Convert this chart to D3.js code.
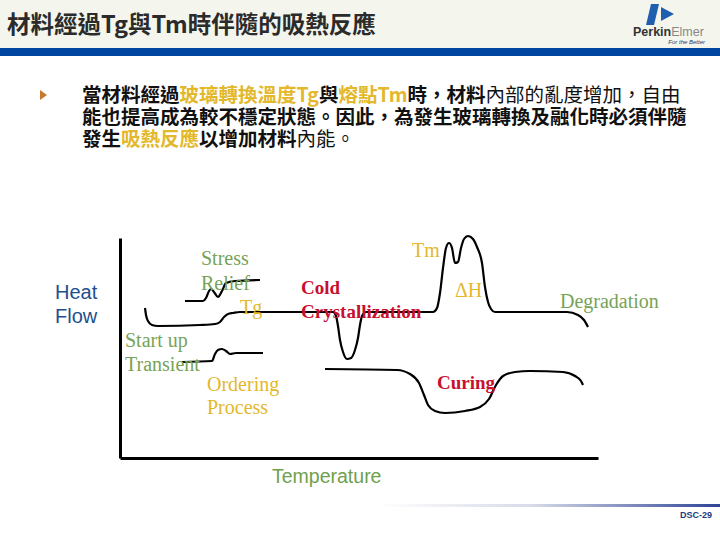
<!DOCTYPE html>
<html>
<head>
<meta charset="utf-8">
<script src="https://cdn.jsdelivr.net/npm/d3@7"></script>
<style>
  body { margin: 0; background: #fff; }
  svg { display: block; }
</style>
</head>
<body>
<svg width="720" height="540"></svg>
<script>
// DSC thermogram sketch: [temperature, heat flow] in arbitrary units
const mainCurve = [
  [25,150],[26,143],[28,137],[32,133],[38,132],[80,133],[95,134],[100,136],[104,141],[108,144],
  [113,145],[120,146],[180,146],[213,146],[216,142],[218,132],[220,118],[223,106],[227,99],
  [231,100],[235,108],[238,120],[240,133],[242,142],[246,146],[313,146],[317,150],[320,165],
  [323,190],[326,210],[329,215],[332,210],[335,195],[338,196],[341,210],[344,219],[348,222],
  [353,219],[357,211],[362,195],[365,171],[368,156],[371,149],[375,146],[447,146],[458,143],
  [464,138],[468,131]
];
const stressReliefCurve = [
  [65,157],[83,157],[86,160],[89,167],[91,169],[94,166],[98,161],[102,167],[106,175],[115,177],[140,178]
];
const orderingCurve = [
  [62,96],[92,97],[95,104],[98,108],[102,109],[106,107],[110,104],[116,105],[143,105]
];
const curingCurve = [
  [205,89],[277,88],[290,84],[299,75],[304,63],[308,53],[315,47],[325,45],[345,47],[360,51],
  [369,59],[376,73],[383,82],[395,86],[410,87],[443,86],[455,82],[461,77],[463,73]
];

const labelText = ['Stress', 'Relief', 'Tg', 'Start up', 'Transient', 'Ordering', 'Process',
  'Tm', 'Cold', 'Crystallization', '\u0394H', 'Degradation', 'Curing'];
const labelAt = [[81,193],[81,168],[120,144],[5,111],[5,87],[87,67],[87,44],
  [292,201],[181,164],[181,140],[335,161],[440,150],[317,69]];
const labelKind = ['g','g','y','g','g','y','y','y','r','r','y','g','r'];

const bodyLines = [
  [['當材料經過','k'],['玻璃轉換溫度Tg','y'],['與','k'],['熔點Tm','y'],['時，材料','k'],['內部的亂度增加，自由','n']],
  [['能也提高成為較不穩定狀態。因此，為發生玻璃轉換及融化時必須伴隨','k']],
  [['發生','k'],['吸熱反應','y'],['以增加材料','k'],['內能。','n']]
];

const green = '#77a356', yellow = '#e3b82c', red = '#c8102e';
const kindColor = { g: green, y: yellow, r: red, k: '#111', n: '#111' };

const svg = d3.select('svg');
const cjk = '"Noto Sans CJK TC", "Noto Sans CJK SC", sans-serif';

// header band
svg.append('rect').attr('width', 720).attr('height', 48).attr('fill', '#f4f5ed');
svg.append('rect').attr('y', 48).attr('width', 720).attr('height', 8).attr('fill', '#0046a0');
svg.append('text')
  .attr('x', 7).attr('y', 33)
  .attr('font-family', cjk).attr('font-weight', 'bold').attr('font-size', 23.5)
  .attr('fill', '#2b2b2b')
  .text('材料經過Tg與Tm時伴隨的吸熱反應');

// logo
const logo = svg.append('g');
logo.append('path').attr('d', 'M651,4 L659,4 L654,25 L646,25 Z').attr('fill', '#1f5fb0');
logo.append('path').attr('d', 'M661,7 L674,14 L661,21 Z').attr('fill', '#1f5fb0');
logo.append('text').attr('x', 633).attr('y', 36)
  .attr('font-family', 'Liberation Sans, Arial, sans-serif').attr('font-weight', 'bold').attr('font-size', 12.5)
  .attr('fill', '#333')
  .call(t => {
    t.append('tspan').text('Perkin');
    t.append('tspan').attr('fill', '#888').attr('font-weight', 'normal').text('Elmer');
  });
logo.append('text').attr('x', 705).attr('y', 44).attr('text-anchor', 'end')
  .attr('font-family', 'Liberation Sans, Arial, sans-serif').attr('font-style', 'italic').attr('font-size', 6)
  .attr('fill', '#1f3a70').text('For the Better');

// bullet paragraph
svg.append('path').attr('d', 'M40,90 L47,95 L40,100 Z').attr('fill', '#c77a2c');
const body = svg.append('text')
  .attr('font-family', cjk).attr('font-size', 19.5).attr('font-weight', 'bold');
bodyLines.forEach((line, i) => {
  line.forEach(([s, k], j) => {
    const ts = body.append('tspan').text(s)
      .attr('fill', kindColor[k])
      .attr('font-weight', k === 'n' ? 'normal' : 'bold');
    if (j === 0) ts.attr('x', 82).attr('y', 102 + i * 22);
  });
});

// chart
const x = d3.scaleLinear().domain([0, 478]).range([120, 598]);
const y = d3.scaleLinear().domain([0, 220]).range([458, 238]);

const axes = svg.append('g');
axes.append('g').attr('transform', 'translate(120,0)')
  .call(d3.axisLeft(y).ticks(0).tickSizeOuter(0));
axes.append('g').attr('transform', 'translate(0,458)')
  .call(d3.axisBottom(x).ticks(0).tickSizeOuter(0));
axes.selectAll('.domain').attr('stroke', '#000').attr('stroke-width', 3);

const line = d3.line()
  .x(d => x(d[0]))
  .y(d => y(d[1]))
  .curve(d3.curveMonotoneX);

svg.append('g')
  .selectAll('path')
  .data([mainCurve, stressReliefCurve, orderingCurve, curingCurve])
  .enter()
  .append('path')
  .attr('d', line)
  .attr('fill', 'none')
  .attr('stroke', '#000')
  .attr('stroke-width', 2.2);

svg.append('g')
  .selectAll('text')
  .data(labelText)
  .enter()
  .append('text')
  .attr('x', (d, i) => x(labelAt[i][0]))
  .attr('y', (d, i) => y(labelAt[i][1]))
  .attr('font-family', 'Liberation Serif, "Times New Roman", serif')
  .attr('font-size', (d, i) => labelKind[i] === 'r' ? 19 : 20)
  .attr('font-weight', (d, i) => labelKind[i] === 'r' ? 'bold' : 'normal')
  .attr('fill', (d, i) => kindColor[labelKind[i]])
  .text(d => d);

svg.append('text').attr('x', 55).attr('y', 299)
  .attr('font-family', 'Liberation Sans, Arial, sans-serif').attr('font-size', 20)
  .attr('fill', '#1d4f8f').text('Heat');
svg.append('text').attr('x', 55).attr('y', 323)
  .attr('font-family', 'Liberation Sans, Arial, sans-serif').attr('font-size', 20)
  .attr('fill', '#1d4f8f').text('Flow');
svg.append('text').attr('x', 272).attr('y', 483)
  .attr('font-family', 'Liberation Sans, Arial, sans-serif').attr('font-size', 19.5)
  .attr('fill', '#6fa04e').text('Temperature');

// footer
const grad = svg.append('defs').append('linearGradient').attr('id', 'foot');
grad.append('stop').attr('offset', 0).attr('stop-color', '#fff');
grad.append('stop').attr('offset', 0.45).attr('stop-color', '#d8dbe8');
grad.append('stop').attr('offset', 1).attr('stop-color', '#2e4496');
svg.append('rect').attr('x', 377).attr('y', 504).attr('width', 343).attr('height', 3).attr('fill', 'url(#foot)');
svg.append('text').attr('x', 712).attr('y', 518).attr('text-anchor', 'end')
  .attr('font-family', 'Liberation Sans, Arial, sans-serif').attr('font-weight', 'bold').attr('font-size', 9)
  .attr('fill', '#1e3a7e').text('DSC-29');
</script>
</body>
</html>
